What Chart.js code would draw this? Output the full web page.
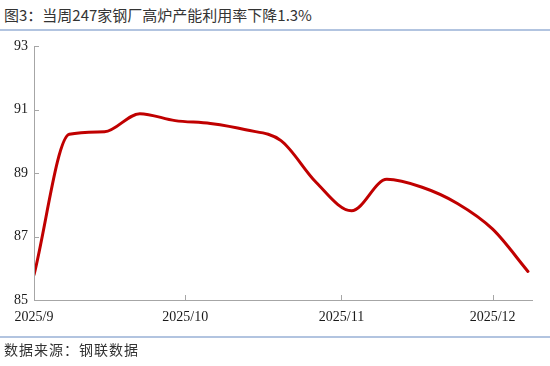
<!DOCTYPE html>
<html>
<head>
<meta charset="utf-8">
<script src="https://cdn.jsdelivr.net/npm/chart.js@4.4.1/dist/chart.umd.min.js"></script>
<style>
  html, body { margin: 0; padding: 0; background: #fff; }
  #wrap { position: relative; width: 550px; height: 366px; overflow: hidden; }
  #title { position: absolute; left: 4px; top: 5px; font-family: "Noto Sans CJK SC", sans-serif; font-size: 15px; color: #333; line-height: 20px; white-space: nowrap; }
  #src { position: absolute; left: 4px; top: 340px; font-family: "Noto Sans CJK SC", serif; font-size: 14px; color: #333; letter-spacing: 1px; line-height: 18px; white-space: nowrap; }
  .sep { position: absolute; left: 0; width: 550px; height: 1.5px; background: #b2c4e0; }
  canvas { position: absolute; left: 0; top: 0; }
</style>
</head>
<body>
<div id="wrap">
  <div id="title">图3：当周247家钢厂高炉产能利用率下降1.3%</div>
  <div class="sep" style="top:29px"></div>
  <canvas id="c" width="550" height="366"></canvas>
  <div class="sep" style="top:336px"></div>
  <div id="src">数据来源：钢联数据</div>
</div>
<script>
// Days since 2025-09-01 (weekly observations)
const days = [0, 7, 14, 21, 28, 35, 42, 49, 56, 63, 70, 77, 84, 91, 98];
// Blast furnace capacity utilisation (%) of 247 steel mills
const utilisation = [85.79, 90.22, 90.3, 90.87, 90.65, 90.56, 90.36, 90.02, 88.7, 87.81, 88.8, 88.55, 88.04, 87.23, 85.9];
// x-axis month ticks (days since 2025-09-01) and their labels
const monthTickDays = [0, 30, 61, 91];
const monthTickLabels = ["2025/9", "2025/10", "2025/11", "2025/12"];
// y-axis ticks
const yTicks = [85, 87, 89, 91, 93];

const points = days.map((d, i) => ({ x: d, y: utilisation[i] }));

const innerTicks = {
  id: 'innerTicks',
  afterDraw(chart) {
    const { ctx, scales: { x, y }, chartArea } = chart;
    ctx.save();
    ctx.strokeStyle = '#a6a6a6';
    ctx.lineWidth = 1;
    ctx.beginPath();
    ctx.moveTo(chartArea.left + 0.5, chartArea.top);
    ctx.lineTo(chartArea.left + 0.5, chartArea.bottom + 0.5);
    ctx.lineTo(chartArea.right, chartArea.bottom + 0.5);
    yTicks.forEach(v => {
      const py = Math.round(y.getPixelForValue(v)) + 0.5;
      ctx.moveTo(chartArea.left, py);
      ctx.lineTo(chartArea.left + 5, py);
    });
    monthTickDays.forEach(v => {
      const px = Math.round(x.getPixelForValue(v)) + 0.5;
      ctx.moveTo(px, chartArea.bottom);
      ctx.lineTo(px, chartArea.bottom - 5);
    });
    ctx.stroke();
    ctx.restore();
  }
};

new Chart(document.getElementById('c'), {
  type: 'line',
  data: {
    datasets: [{
      data: points,
      borderColor: '#c00000',
      borderWidth: 3,
      pointRadius: 0,
      cubicInterpolationMode: 'monotone',
      fill: false,
      borderCapStyle: 'round'
    }]
  },
  options: {
    responsive: false,
    animation: false,
    devicePixelRatio: 1,
    layout: { padding: { left: 0, right: 17, top: 46, bottom: 0 } },
    plugins: { legend: { display: false }, tooltip: { enabled: false } },
    scales: {
      x: {
        type: 'linear',
        min: 0,
        max: 99,
        afterFit(s) { s.height = 66; },
        afterBuildTicks(s) { s.ticks = monthTickDays.map(v => ({ value: v })); },
        ticks: {
          autoSkip: false,
          maxRotation: 0,
          padding: 9,
          color: '#1a1a1a',
          font: { family: '"Liberation Serif", "Times New Roman", serif', size: 14 },
          callback(v) { const i = monthTickDays.indexOf(v); return i >= 0 ? monthTickLabels[i] : ''; }
        },
        grid: { display: false, drawTicks: false },
        border: { display: false }
      },
      y: {
        min: 85,
        max: 93,
        afterFit(s) { s.width = 34; },
        afterBuildTicks(s) { s.ticks = yTicks.map(v => ({ value: v })); },
        ticks: {
          padding: 6,
          color: '#1a1a1a',
          font: { family: '"Liberation Serif", "Times New Roman", serif', size: 14 }
        },
        grid: { display: false, drawTicks: false },
        border: { display: false }
      }
    }
  },
  plugins: [innerTicks]
});
</script>
</body>
</html>
